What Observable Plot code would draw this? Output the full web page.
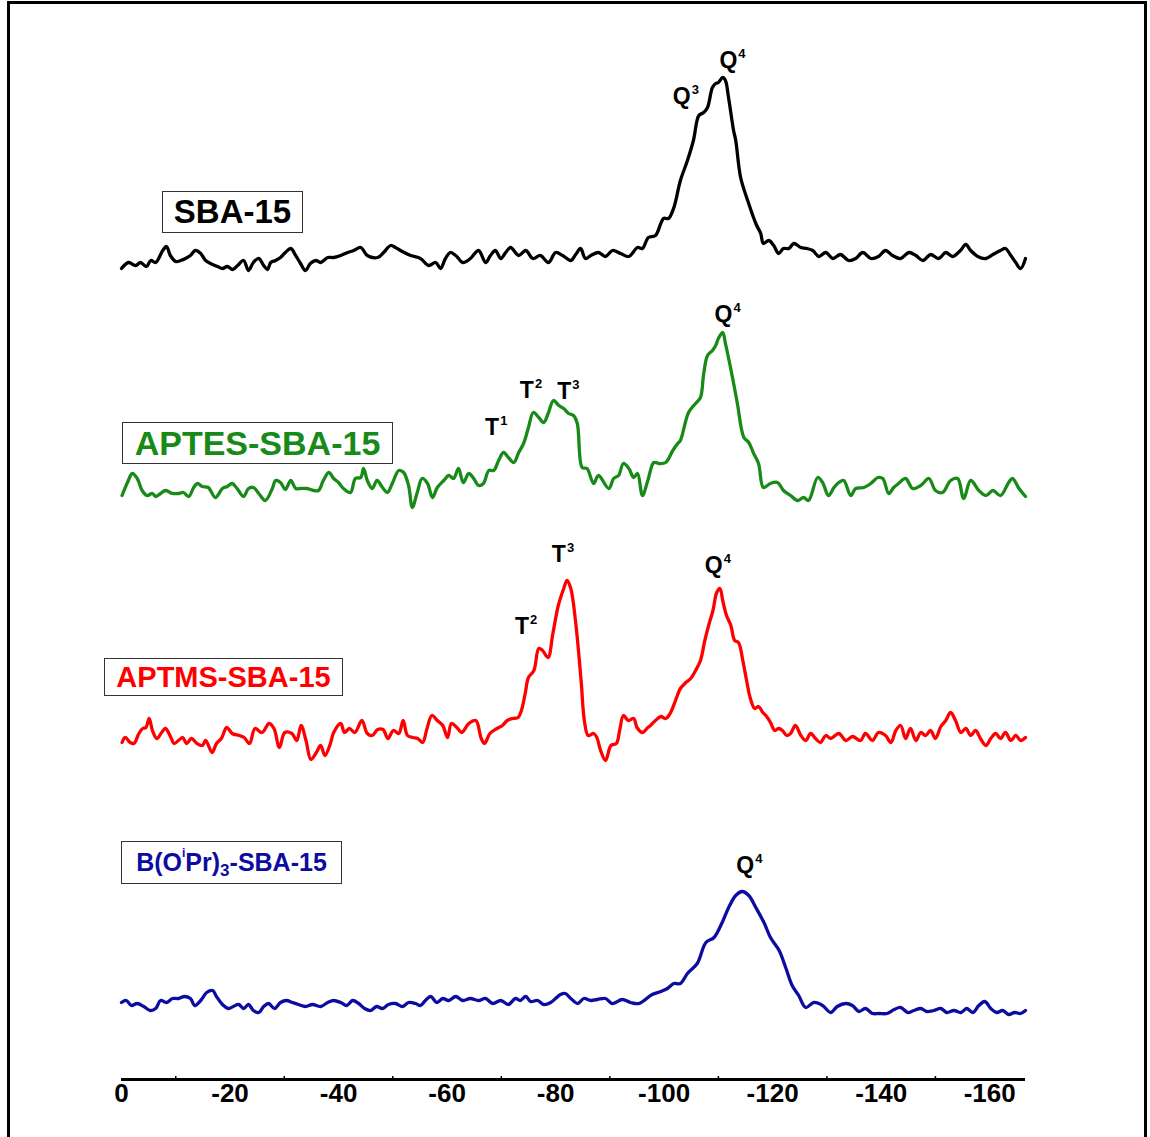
<!DOCTYPE html>
<html>
<head>
<meta charset="utf-8">
<script src="https://cdn.jsdelivr.net/npm/d3@7"></script>
<script src="https://cdn.jsdelivr.net/npm/@observablehq/plot@0.6"></script>
<style>
html, body { margin: 0; padding: 0; background: #fff; overflow: hidden; }
#wrap { position: relative; width: 1150px; height: 1137px; overflow: hidden; font-family: Arial, "Liberation Sans", sans-serif; }
#frame { position: absolute; left: 7px; top: 1px; width: 1140px; height: 1300px; border: 3px solid #000; box-sizing: border-box; pointer-events: none; }
.box { position: absolute; border: 1.3px solid #333; box-sizing: border-box; display: flex; align-items: center; justify-content: center; font-weight: bold; background: #fff; white-space: nowrap; }
.box sup { font-size: 12px; vertical-align: 0; position: relative; top: -10px; }
.box sub { font-size: 17px; vertical-align: 0; position: relative; top: 8px; }
</style>
</head>
<body>
<div id="wrap"><div id="frame"></div></div>
<script>
// ---- data (chemical shift in ppm, intensity in arbitrary units) ----
const majorTicks = [0, -20, -40, -60, -80, -100, -120, -140, -160];
const minorTicks = [-10, -30, -50, -70, -90, -110, -130, -150];

const sampleNames = ["SBA-15", "APTES-SBA-15", "APTMS-SBA-15", "B(OiPr)3-SBA-15"];
const sampleColors = ["#000000", "#178a17", "#ff0000", "#0c0ca0"];
const sampleOffsets = [809, 579, 319, 64];

const shiftsSBA = [0,-1.3,-2.6,-3.5,-4.6,-5.4,-6.3,-7.6,-8.3,-9.0,
-10.0,-10.9,-11.8,-12.7,-13.6,-14.6,-15.5,-16.4,-17.7,-18.6,
-19.5,-20.5,-21.4,-22.5,-23.4,-24.3,-25.3,-26.2,-26.9,-27.5,
-28.4,-29.3,-30.2,-31.2,-32.1,-33.0,-33.9,-34.8,-35.8,-36.7,
-38.0,-39.1,-40.4,-41.7,-42.8,-44.1,-45.3,-47.2,-48.3,-49.6,
-50.5,-51.4,-53.3,-55.1,-56.6,-57.9,-58.8,-59.7,-60.6,-61.6,
-62.9,-64.3,-65.8,-67.1,-68.0,-68.9,-69.9,-70.8,-71.7,-73.2,
-74.5,-75.8,-77.2,-78.7,-80.0,-81.3,-82.8,-83.7,-84.6,-85.5,
-86.5,-87.9,-89.2,-90.5,-92.0,-93.5,-95.1,-96.0,-97.1,-98.4,
-99.9,-100.8,-101.8,-103.0,-104.3,-105.4,-106.4,-107.3,-108.0,-108.9,
-109.5,-110.0,-110.8,-111.3,-111.9,-112.8,-113.2,-114.1,-115.4,-116.9,
-117.8,-118.3,-119.3,-120.2,-121.1,-122.0,-123.0,-123.9,-125.2,-126.3,
-127.4,-128.5,-129.8,-131.1,-132.5,-134.0,-135.3,-136.6,-138.1,-139.5,
-140.8,-142.1,-143.6,-145.1,-146.4,-147.7,-149.1,-150.6,-151.9,-153.2,
-154.6,-155.6,-156.5,-157.8,-159.3,-160.6,-162.0,-162.9,-163.9,-164.8,
-165.7,-166.6];
const intensSBA = [2,8,5,8,4,10,8,20,24,15,
9,10,12,15,20,17,10,7,4,2,
4,1,5,10,0,8,12,5,1,8,
10,13,18,22,15,7,0,7,10,8,
13,13,15,18,20,23,15,13,18,25,
23,20,15,12,5,8,2,12,18,15,
8,12,20,8,15,20,12,18,23,15,
20,12,15,8,18,15,10,16,22,12,
15,18,14,20,17,14,23,22,33,35,
52,52,63,90,110,130,155,158,163,183,
187,188,193,190,172,140,130,93,70,47,
37,27,30,25,17,22,22,27,23,22,
20,14,18,12,16,10,12,18,12,14,
20,15,12,18,15,10,16,12,18,14,
20,26,20,14,12,16,20,22,15,8,
2,12];

const shiftsAPTES = [-0.1,-1.1,-2.0,-2.9,-3.8,-4.7,-5.7,-6.3,-7.2,-8.1,
-9.4,-10.5,-11.4,-12.4,-13.3,-14.0,-14.9,-16.0,-17.3,-18.6,
-19.5,-20.4,-21.3,-22.5,-23.4,-24.3,-25.3,-26.5,-27.8,-28.4,
-29.3,-30.2,-31.2,-32.1,-33.0,-34.2,-35.4,-36.3,-37.2,-38.2,
-39.1,-40.0,-40.9,-42.2,-43.1,-44.1,-44.6,-45.3,-46.2,-47.1,
-48.1,-49.0,-49.9,-51.1,-52.0,-52.9,-53.6,-54.5,-55.4,-56.4,
-57.3,-58.2,-59.4,-60.3,-61.2,-62.1,-63.0,-64.0,-64.9,-65.8,
-66.7,-67.7,-68.6,-69.5,-70.4,-71.3,-72.3,-73.2,-74.1,-75.0,
-75.9,-76.9,-77.8,-78.7,-79.6,-80.6,-81.5,-82.4,-83.3,-84.0,
-84.9,-85.8,-87.0,-87.9,-89.8,-90.7,-91.6,-92.5,-93.5,-94.4,
-95.1,-96.0,-97.0,-98.1,-99.0,-100.3,-101.6,-102.5,-103.0,-104.5,
-105.8,-106.7,-107.3,-108.0,-108.9,-109.5,-110.0,-110.8,-111.3,-112.6,
-113.5,-114.7,-115.6,-116.5,-117.4,-118.3,-119.6,-120.9,-122.0,-123.3,
-124.6,-125.7,-126.6,-128.3,-129.2,-130.3,-131.3,-132.2,-133.1,-134.4,
-135.3,-136.8,-138.1,-139.4,-140.3,-141.4,-142.3,-143.2,-144.5,-145.8,
-147.3,-148.8,-150.0,-151.3,-152.8,-154.1,-155.2,-156.5,-158.0,-159.3,
-160.6,-162.0,-163.5,-164.2,-165.4,-166.6];
const intensAPTES = [5,18,27,22,10,5,7,4,7,10,
7,7,8,4,13,17,14,13,3,12,
14,17,12,4,12,13,7,0,12,20,
18,11,20,12,12,12,10,10,20,28,
22,18,12,8,22,23,32,20,12,20,
13,8,17,30,28,15,-7,8,22,17,
3,13,20,25,22,32,18,27,22,15,
17,30,30,40,48,43,38,48,57,73,
88,83,78,88,100,95,92,87,85,77,
33,32,17,25,12,22,25,37,32,23,
27,5,20,38,37,38,50,57,60,88,
97,103,127,145,150,155,162,168,157,123,
97,63,58,47,37,13,17,18,10,5,
0,3,0,23,18,5,13,18,20,5,
12,13,17,23,22,7,13,17,22,12,
15,22,10,8,20,22,2,20,10,5,
10,5,18,22,12,4];

const shiftsAPTMS = [-0.1,-0.7,-1.6,-2.3,-3.2,-3.9,-4.5,-5.1,-5.7,-6.5,
-7.4,-8.1,-9.1,-9.7,-10.7,-11.3,-12.0,-12.9,-13.9,-14.9,
-15.5,-16.7,-17.5,-18.4,-19.4,-20.4,-21.7,-22.6,-23.6,-24.6,
-25.9,-27.2,-28.1,-29.1,-30.1,-31.4,-32.3,-33.1,-34.0,-34.9,
-35.9,-36.7,-37.5,-38.5,-39.1,-40.4,-41.1,-42.0,-43.0,-44.3,
-45.3,-46.2,-47.2,-48.2,-49.1,-50.1,-51.1,-51.9,-52.7,-53.7,
-54.6,-55.5,-56.3,-57.2,-58.2,-59.2,-60.1,-60.8,-61.8,-62.7,
-64.0,-65.3,-66.3,-66.9,-67.9,-69.2,-70.2,-71.1,-72.1,-73.1,
-73.7,-74.4,-75.0,-76.0,-76.9,-77.6,-78.6,-79.5,-80.5,-81.5,
-82.1,-82.8,-83.7,-84.7,-85.3,-86.0,-87.0,-87.6,-88.3,-89.2,
-90.2,-91.2,-91.8,-92.5,-93.4,-94.4,-95.0,-96.0,-97.0,-97.5,
-98.4,-99.4,-100.3,-101.2,-102.1,-103.0,-104.0,-104.9,-105.8,-106.7,
-107.5,-108.2,-109.0,-109.7,-110.3,-110.8,-111.5,-112.3,-113.0,-113.7,
-114.5,-115.2,-115.9,-116.7,-117.4,-118.2,-118.9,-119.6,-120.4,-121.1,
-121.8,-122.6,-123.3,-124.2,-125.2,-126.1,-127.0,-127.9,-128.8,-129.8,
-130.7,-132.2,-133.5,-134.7,-136.2,-137.1,-138.4,-139.5,-140.8,-141.8,
-142.7,-143.6,-144.5,-145.4,-146.4,-147.3,-148.2,-149.1,-150.0,-151.0,
-151.9,-152.8,-153.7,-154.7,-155.6,-156.5,-157.4,-158.3,-159.3,-160.2,
-161.1,-162.0,-162.9,-163.9,-164.8,-165.7,-166.6];
const intensAPTMS = [18,23,18,17,27,32,33,42,30,22,
28,32,23,17,21,23,17,22,17,15,
20,8,17,22,33,27,25,23,17,32,
28,37,32,13,28,27,20,35,20,1,
8,15,5,17,28,37,28,32,28,40,
27,25,31,31,22,30,27,40,25,23,
22,18,32,45,40,35,23,37,33,28,
37,40,22,17,27,32,35,40,42,43,
50,67,83,90,112,110,103,127,155,172,
180,172,138,80,40,25,27,23,10,0,
15,17,30,45,40,42,33,28,33,35,
40,44,42,48,60,72,78,82,90,100,
120,135,150,168,172,160,145,135,120,118,
100,80,62,52,54,48,44,38,30,32,
30,25,27,35,25,20,27,22,18,25,
22,27,20,24,20,27,20,28,25,18,
30,35,22,32,20,28,25,30,22,34,
40,48,40,28,32,25,30,22,15,22,
27,22,28,20,25,20,23];

const shiftsBOIPR = [0,-0.9,-1.8,-2.9,-4.1,-5.3,-6.3,-7.2,-8.3,-9.4,
-10.5,-11.6,-12.7,-13.5,-14.6,-15.7,-16.8,-17.5,-18.6,-19.7,
-20.6,-21.6,-22.5,-23.4,-24.3,-25.3,-26.2,-27.1,-28.2,-29.3,
-30.4,-31.5,-32.6,-33.9,-35.2,-36.7,-38.0,-39.1,-40.4,-41.5,
-42.6,-43.7,-44.8,-45.9,-47.0,-48.1,-49.2,-50.5,-51.8,-52.9,
-54.2,-55.1,-56.0,-57.0,-58.1,-59.2,-60.3,-61.6,-62.9,-64.3,
-65.8,-67.1,-68.4,-69.9,-71.3,-72.6,-73.5,-74.5,-75.4,-76.7,
-77.8,-79.1,-80.0,-80.9,-81.8,-82.8,-84.1,-85.2,-86.5,-87.7,
-89.2,-90.4,-92.3,-93.8,-95.4,-97.8,-99.4,-100.6,-101.8,-103.0,
-104.3,-106.1,-107.7,-109.2,-110.7,-111.9,-113.2,-114.4,-115.6,-116.9,
-118.4,-119.6,-121.2,-122.4,-123.6,-124.8,-126.1,-127.6,-129.2,-130.7,
-131.9,-133.5,-134.7,-135.9,-137.1,-138.4,-139.6,-141.1,-142.4,-143.6,
-144.9,-146.0,-147.3,-148.4,-149.7,-151.0,-152.1,-153.4,-154.7,-155.8,
-156.9,-158.0,-159.1,-160.2,-161.3,-162.4,-163.5,-164.6,-165.7,-166.6];
const intensBOIPR = [13,15,10,12,9,5,7,15,13,17,
17,19,17,10,15,23,25,19,11,7,
9,11,7,11,5,3,9,12,7,13,
15,13,11,9,11,9,13,15,13,10,
15,12,7,5,9,7,11,12,9,13,
12,10,15,19,13,17,15,19,15,17,
15,17,12,15,11,17,15,19,14,15,
11,13,17,21,22,17,12,17,15,16,
17,12,16,13,12,21,24,27,32,32,
42,52,73,78,93,108,120,124,120,108,
93,78,65,48,30,20,8,13,10,3,
9,12,10,4,7,2,2,2,6,8,
3,5,7,4,5,7,3,5,3,7,
3,10,14,7,3,5,1,3,2,5];

// peak assignments
const peakSample  = [0, 0, 1, 1, 1, 1, 2, 2, 2, 3];
const peakLetter  = ["Q", "Q", "T", "T", "T", "Q", "T", "T", "Q", "Q"];
const peakSup     = ["3", "4", "1", "2", "3", "4", "2", "3", "4", "4"];
const peakShift   = [-104.9, -113.5, -69.6, -76.0, -82.9, -112.6, -75.1, -81.9, -110.8, -116.6];
const peakHeight  = [167, 203, 66, 103, 102, 179, 127, 199, 188, 143];

// ---- build tables ----
const spectra = [
  [shiftsSBA, intensSBA],
  [shiftsAPTES, intensAPTES],
  [shiftsAPTMS, intensAPTMS],
  [shiftsBOIPR, intensBOIPR]
];
const lineMarks = spectra.map(([xs, ys], i) =>
  Plot.line(xs.map((s, k) => ({shift: s, value: sampleOffsets[i] + ys[k]})), {
    x: "shift", y: "value", stroke: sampleColors[i], strokeWidth: 3.3,
    curve: "catmull-rom", strokeLinejoin: "round", strokeLinecap: "round"
  })
);
const peaks = peakShift.map((s, i) => ({
  shift: s, y: sampleOffsets[peakSample[i]] + peakHeight[i], letter: peakLetter[i], sup: peakSup[i]
}));

const font = 'Arial, "Liberation Sans", sans-serif';
const chart = Plot.plot({
  width: 1150, height: 1137,
  marginLeft: 121, marginRight: 125, marginTop: 0, marginBottom: 58,
  style: {fontFamily: font, background: "transparent", overflow: "visible"},
  x: {domain: [0, -166.6], label: null},
  y: {domain: [0, 1079], axis: null},
  marks: [
    ...lineMarks,
    Plot.text(peaks, {x: "shift", y: "y", text: "letter", textAnchor: "end", lineAnchor: "bottom",
      fontSize: 23, fontWeight: "bold", fill: "#000"}),
    Plot.text(peaks, {x: "shift", y: "y", text: "sup", textAnchor: "start", lineAnchor: "bottom",
      dx: 1, dy: -10, fontSize: 13, fontWeight: "bold", fill: "#000"}),
    Plot.ruleX(minorTicks, {y1: 0, y2: 3, stroke: "#000", strokeWidth: 1.5}),
    Plot.ruleY([0], {stroke: "#000", strokeWidth: 3}),
    Plot.axisX({ticks: majorTicks, tickSize: 0, tickPadding: 4, fontSize: 26, fontWeight: "bold",
      tickFormat: d => `${d}`, label: null, fill: "#000"})
  ]
});
const wrap = document.getElementById("wrap");
chart.style.position = "absolute";
chart.style.left = "0px";
chart.style.top = "0px";
wrap.appendChild(chart);

// sample name boxes
const boxes = [
  {left: 162, top: 191, width: 141, height: 42, size: 33},
  {left: 122, top: 422, width: 271, height: 42, size: 34},
  {left: 104, top: 658, width: 239, height: 38, size: 29},
  {left: 121, top: 841, width: 221, height: 43, size: 25}
];
boxes.forEach((b, i) => {
  const d = document.createElement("div");
  d.className = "box";
  Object.assign(d.style, {left: b.left + "px", top: b.top + "px", width: b.width + "px",
    height: b.height + "px", fontSize: b.size + "px", color: sampleColors[i]});
  if (i === 3) {
    d.innerHTML = 'B(O<sup>i</sup>Pr)<sub>3</sub>-SBA-15';
  } else {
    d.textContent = sampleNames[i];
  }
  wrap.appendChild(d);
});
</script>
</body>
</html>
